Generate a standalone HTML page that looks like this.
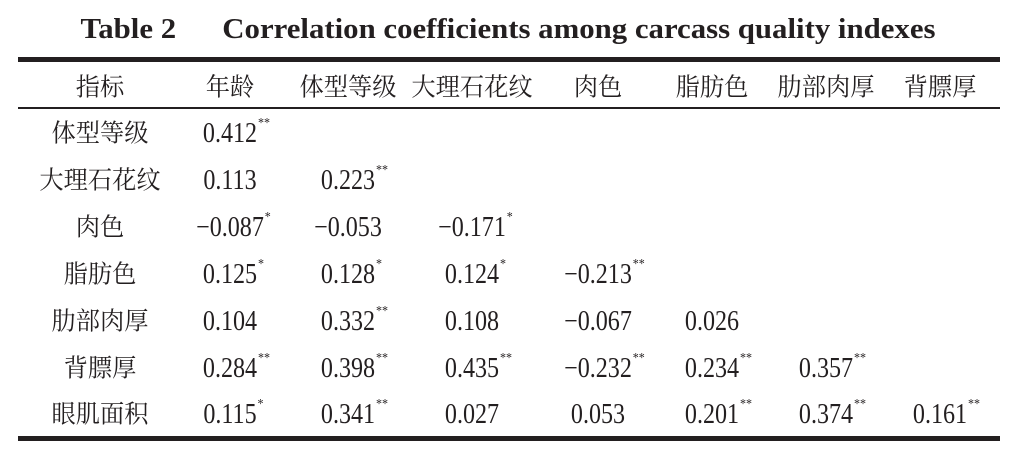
<!DOCTYPE html>
<html><head><meta charset="utf-8"><style>
body{margin:0;width:1016px;height:457px;background:#fff;position:relative;overflow:hidden;font-family:"Liberation Serif","Noto Serif CJK SC",serif;color:#231f20}
.t{position:absolute;transform:translate(-50%,-50%) scaleX(0.86);white-space:nowrap;font-size:28px;line-height:1}
.c{font-size:25px;transform:translate(-50%,-50%) scaleX(0.97)}
sup{font-size:14px;vertical-align:top;margin-left:1px}
.rule{position:absolute;left:18px;width:982px;background:#231f20}
</style></head><body>
<div style="position:absolute;left:508px;top:30px;transform:translate(-50%,-50%) scaleX(1.1);font-weight:bold;font-size:28px;white-space:nowrap">Table 2&nbsp;&nbsp;&nbsp;&nbsp;&nbsp; Correlation coefficients among carcass quality indexes</div>
<div class="rule" style="top:57px;height:5px"></div>
<div class="rule" style="top:107px;height:2px"></div>
<div class="rule" style="top:436px;height:5px"></div>
<div id="tbl"></div>
<script>
const headers=["指标","年龄","体型等级","大理石花纹","肉色","脂肪色","肋部肉厚","背膘厚"];
const rowLabels=["体型等级","大理石花纹","肉色","脂肪色","肋部肉厚","背膘厚","眼肌面积"];
const values=[
["0.412**"],
["0.113","0.223**"],
["−0.087*","−0.053","−0.171*"],
["0.125*","0.128*","0.124*","−0.213**"],
["0.104","0.332**","0.108","−0.067","0.026"],
["0.284**","0.398**","0.435**","−0.232**","0.234**","0.357**"],
["0.115*","0.341**","0.027","0.053","0.201**","0.374**","0.161**"]];
const colX=[100,230,348,472,598,712,826,940];
const rowY=[134,181,228,275,322,369,415];
const tbl=document.getElementById('tbl');
function add(txt,x,y,cls,name){const d=document.createElement('div');


d.className='t '+(cls||'');d.style.left=x+'px';d.style.top=y+'px';d.innerHTML=txt;tbl.appendChild(d);}
headers.forEach((h,i)=>add(h,colX[i],88,'c','column-header'));
rowLabels.forEach((r,i)=>{add(r,colX[0],rowY[i],'c','row-label');
values[i].forEach((v,j)=>{const m=v.match(/^([^*]*)(\**)$/);
const html=m[1]+(m[2]?'<sup style="position:absolute;left:100%;top:-1px">'+m[2]+'</sup>':'');
add('<span style="position:relative">'+html+'</span>',colX[j+1],rowY[i],'','cell-value');});});
</script>
</body></html>
